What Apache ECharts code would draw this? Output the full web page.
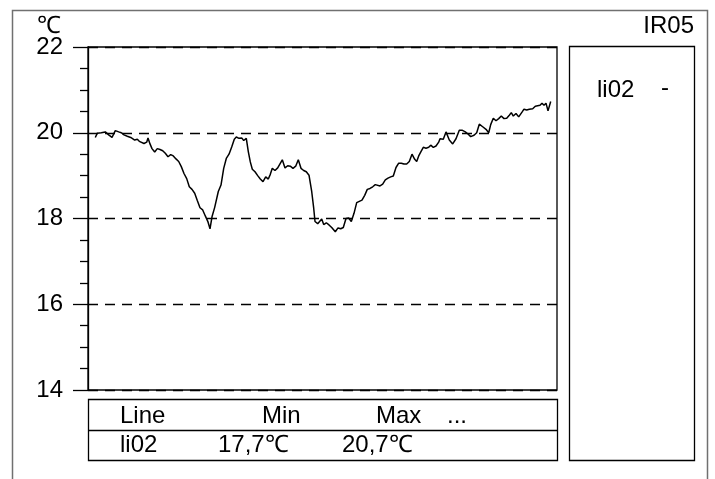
<!DOCTYPE html>
<html>
<head>
<meta charset="utf-8">
<script src="https://cdn.jsdelivr.net/npm/echarts@6/dist/echarts.min.js"></script>
<style>
  html, body { margin: 0; padding: 0; background: #fff; }
  #chart { width: 715px; height: 479px; }
</style>
</head>
<body>
<div id="chart"></div>
<script>
// sample positions along the (unlabelled) time axis
const times = [
  7.3, 9.3, 13.3, 17.3, 20.7, 24, 27.3, 30.7, 33.3, 36, 39.3, 42.7, 44.7, 46.7, 49.3, 51.3, 53.3, 56, 58.7, 60,
  62, 64, 66.7, 69.3, 72, 74.7, 77.3, 80, 82.7, 85.3, 88, 90.7, 93.3, 96, 98.7, 101.3, 104, 106.7, 109.3, 112,
  114.7, 117.3, 120, 122, 124, 126.7, 130.3, 133, 135.7, 138.3, 141, 143.7, 146.3, 148.3, 151, 153.7, 155.7, 158.3,
  160.3, 162.3, 164.3, 167, 169.7, 172.3, 175, 177.7, 180.3, 182.3, 184.3, 187, 189.7, 191.7, 194.3, 197, 199.7,
  202.3, 205, 207.7, 210.3, 213, 215.7, 218.3, 221, 223.7, 225.7, 227, 229.7, 231.7, 233.7, 235.7, 238.3, 241,
  243.7, 247.3, 250, 252.7, 255.3, 258, 260.7, 263.3, 266, 268.7, 271.3, 274, 276.7, 279.3, 282, 284.7, 287.3,
  289.3, 292, 294.7, 297.3, 300, 302.7, 305.3, 308, 310.7, 313.3, 316, 318.7, 321.3, 324, 326.7, 328.7, 330.7,
  332.7, 335.3, 338, 340.7, 342.7, 345.3, 348, 350.7, 352, 355.3, 358, 361.3, 364.7, 368, 371.3, 374, 377.3, 380,
  382.7, 386, 388.7, 391.3, 394.7, 398, 400.7, 402.7, 405.3, 408, 410.7, 413.3, 416, 418.7, 421.3, 423.3, 425.3,
  428, 430.7, 434, 436, 438.7, 441.3, 444.7, 447.3, 449.3, 452, 454, 456, 458, 460, 462.7
];
// li02 temperature, °C
const li02 = [
  19.89, 19.99, 20.00, 20.02, 19.95, 19.89, 20.05, 20.02, 20.00, 19.95, 19.92, 19.89, 19.91, 19.83, 19.85, 19.80, 19.78, 19.75, 19.78, 19.88,
  19.74, 19.63, 19.55, 19.63, 19.61, 19.58, 19.52, 19.44, 19.49, 19.46, 19.39, 19.33, 19.21, 19.05, 18.93, 18.74, 18.68, 18.59, 18.42, 18.25,
  18.20, 18.06, 17.92, 17.76, 18.04, 18.26, 18.63, 18.78, 19.17, 19.40, 19.50, 19.67, 19.85, 19.90, 19.87, 19.88, 19.82, 19.87,
  19.56, 19.32, 19.15, 19.09, 19.00, 18.92, 18.86, 18.97, 18.92, 19.03, 19.17, 19.12, 19.18, 19.22, 19.37, 19.18, 19.23,
  19.22, 19.17, 19.22, 19.37, 19.17, 19.12, 19.09, 19.01, 18.63, 18.24, 17.93, 17.88, 17.91, 17.99, 17.86, 17.90, 17.85,
  17.79, 17.69, 17.78, 17.76, 17.79, 18.00, 18.01, 17.93, 18.12, 18.37, 18.40, 18.43, 18.54, 18.68, 18.70, 18.74, 18.79,
  18.83, 18.76, 18.80, 18.90, 18.94, 18.97, 18.99, 19.19, 19.29, 19.29, 19.27, 19.27, 19.33, 19.50, 19.38, 19.33, 19.46,
  19.55, 19.66, 19.64, 19.66, 19.71, 19.66, 19.69, 19.78, 19.86, 19.85, 20.02, 19.83, 19.74, 19.86, 20.06, 20.06, 20.02, 19.97,
  19.91, 19.94, 20.00, 20.20, 20.14, 20.08, 20.00, 20.19, 20.34, 20.28, 20.33, 20.39, 20.33, 20.34, 20.41, 20.47, 20.39,
  20.45, 20.37, 20.48, 20.55, 20.53, 20.55, 20.56, 20.62, 20.65, 20.64, 20.69, 20.64, 20.69, 20.51, 20.73
];
// table texts
const tableHeader = ["Line", "Min", "Max", "..."];
const tableRow = ["li02", "17,7℃", "20,7℃"];
const unitLabel = "℃";
const chartTitle = "IR05";
const legendName = "li02";

const font = '"Liberation Sans", Arial, sans-serif';
const myChart = echarts.init(document.getElementById("chart"));

function txt(text, x, y, align) {
  return {
    type: "text",
    silent: true,
    style: {
      text: text,
      x: x,
      y: y,
      textAlign: align || "left",
      textVerticalAlign: "middle",
      fontSize: 24,
      fontFamily: font,
      fill: "#000",
    },
  };
}

const option = {
  backgroundColor: "#fff",
  animation: false,
  grid: {
    left: 88,
    top: 47,
    width: 469,
    height: 343,
    show: true,
    borderColor: "#000",
    borderWidth: 1.3,
  },
  xAxis: {
    type: "value",
    min: 0,
    max: 469,
    show: false,
  },
  yAxis: {
    type: "value",
    min: 14,
    max: 22,
    interval: 2,
    axisLine: { show: true, lineStyle: { color: "#000", width: 1.3 } },
    axisTick: { show: true, length: 15, lineStyle: { color: "#000", width: 1.3 } },
    minorTick: { show: true, splitNumber: 4, length: 8, lineStyle: { color: "#000", width: 1.3 } },
    axisLabel: { color: "#000", fontSize: 24, fontFamily: font, margin: 25 },
    splitLine: { show: true, lineStyle: { color: "#000", type: [10, 7], width: 1.3 } },
  },
  series: [
    {
      type: "line",
      name: legendName,
      symbol: "none",
      lineStyle: { color: "#000", width: 1.5 },
      data: times.map((t, i) => [t, li02[i]]),
    },
  ],
  graphic: [
    // outer frame
    { type: "rect", silent: true, shape: { x: 12.5, y: 10.5, width: 695, height: 480 },
      style: { fill: "none", stroke: "#707070", lineWidth: 1.5 } },
    // legend box
    { type: "rect", silent: true, shape: { x: 569.5, y: 46.5, width: 125, height: 414 },
      style: { fill: "none", stroke: "#000", lineWidth: 1.3 } },
    // table box
    { type: "rect", silent: true, shape: { x: 88.5, y: 399.5, width: 469, height: 61 },
      style: { fill: "none", stroke: "#000", lineWidth: 1.3 } },
    { type: "line", silent: true, shape: { x1: 88.5, y1: 430.5, x2: 557.5, y2: 430.5 },
      style: { stroke: "#000", lineWidth: 1.3 } },
    txt(unitLabel, 37, 26),
    txt(chartTitle, 694, 26, "right"),
    txt(legendName, 597, 90),
    txt("-", 661, 88),
    txt(tableHeader[0], 120, 416),
    txt(tableHeader[1], 262, 416),
    txt(tableHeader[2], 376, 416),
    txt(tableHeader[3], 447, 416),
    txt(tableRow[0], 120, 445),
    txt(tableRow[1], 218, 445),
    txt(tableRow[2], 342, 445),
  ],
};
myChart.setOption(option);
</script>
</body>
</html>
